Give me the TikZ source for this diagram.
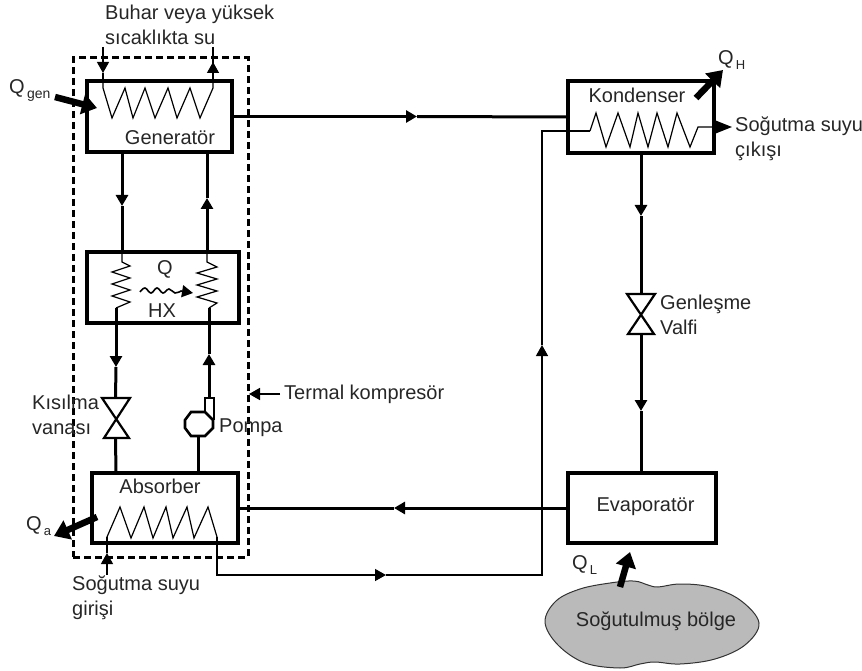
\documentclass[tikz,border=0pt]{standalone}
\usepackage{fontspec}
\setmainfont{Liberation Sans}
\usetikzlibrary{arrows.meta}

\newcommand{\qsub}[2]{Q{\fontsize{#2}{#2}\selectfont\raisebox{-5pt}{\,#1}}}

\tikzset{
  box/.style={draw, line width=3.2pt, inner sep=0, rectangle},
  lbl/.style={inner sep=0, text=black!85, font=\fontsize{20}{25}\selectfont},
  llbl/.style={lbl, anchor=west, align=left},
  pipe/.style={line width=3pt},
  thin pipe/.style={line width=1.3pt},
  coil/.style={line width=1.2pt, line join=miter},
  tip/.style={-{Triangle[length=11pt,width=12pt]}},
  heat/.style={line width=6.5pt, -{Triangle[length=15pt,width=20pt]}},
}

\begin{document}
\begin{tikzpicture}[x=1pt, y=-1pt]
      \useasboundingbox (0,0) rectangle (862,671);

      \node[draw, dash pattern=on 7pt off 4pt, line width=3pt, minimum width=175pt, minimum height=499pt, inner sep=0] (tcomp) at (160.5,307.5) {};

      % boxes
      \node[box, minimum width=145pt, minimum height=71pt] (gen) at (159.5,116.5) {};
      \node[box, minimum width=152pt, minimum height=71pt] (hx) at (163,287.5) {};
      \node[box, minimum width=146pt, minimum height=70pt] (abs) at (165,508) {};
      \node[box, minimum width=146pt, minimum height=72pt] (kond) at (641,117) {};
      \node[box, minimum width=148pt, minimum height=70pt] (evap) at (642,508) {};

      \node[lbl] (tgen) at (170,138) {Generatör};
      \node[lbl] (tabs) at (160,486) {Absorber};
      \node[lbl] (tkond) at (637,95) {Kondenser};
      \node[lbl] (tevap) at (645.5,507) {Evaporatör};

      % cooled region
      \draw[fill=black!27, line width=1pt, draw=black!80] plot[smooth cycle, tension=0.6] coordinates {(545,622) (556,601) (580,589) (610,583) (634,581) (648,585) (658,587) (680,584) (710,587) (740,600) (759,623) (745,645) (715,659) (680,664) (655,662) (640,664) (620,668) (585,663) (558,645)};
      \node[lbl] (tbolge) at (656,621) {Soğutulmuş bölge};

      % valves and pump
      \coordinate (kvt) at (115.5,398);
      \coordinate (kvb) at (115.5,438);
      \coordinate (gvt) at (641,294);
      \coordinate (gvb) at (641,334);
      \draw[line width=2.2pt, line join=miter] (102,398) -- (130,398) -- (104,438) -- (129,438) -- cycle;
      \draw[line width=2.2pt, line join=miter] (627,294) -- (655,294) -- (628,334) -- (654,334) -- cycle;
      \draw[line width=2.6pt] (191,412) -- (205,412) -- (213,420) -- (213,428) -- (205,436) -- (191,436) -- (185,428) -- (185,420) -- cycle;
      \draw[line width=2pt] (205,412) -- (205,397.5) -- (214,397.5) -- (214,420);

      % main lines, one tip on each
      \coordinate (g1) at (122,152);
      \coordinate (g2) at (122,206);
      \coordinate (g3) at (122,252);
      \coordinate (g4) at (207,252);
      \coordinate (g5) at (207,198);
      \coordinate (g6) at (207,152);
      \coordinate (h1) at (116,308);
      \coordinate (h2) at (116,367);
      \coordinate (h3) at (209,397);
      \coordinate (h4) at (209,354);
      \coordinate (h5) at (209,308);
      \coordinate (a1) at (116,473);
      \coordinate (a2) at (198,473);
      \coordinate (p1) at (198,436);
      \coordinate (m1) at (417,116.5);
      \coordinate (m2) at (641,216);
      \coordinate (m3) at (641,153);
      \coordinate (m4) at (641,411);
      \coordinate (m5) at (641,473);
      \coordinate (m6) at (394,508);
      \foreach \from/\mid/\to in {g1/g2/g3, g4/g5/g6, h1/h2/kvt, h3/h4/h5, m3/m2/gvt, gvb/m4/m5} {
        \draw[pipe, tip] (\from) -- (\mid);
        \draw[pipe] (\mid) -- (\to);
      }
      \draw[pipe, tip] (gen.east) -- (m1);
      \draw[pipe] (m1) -- (kond.west);
      \draw[pipe, tip] (evap.west) -- (m6);
      \draw[pipe] (m6) -- (abs.east);
      \draw[pipe] (kvb) -- (a1);
      \draw[pipe] (p1) -- (a2);

      % thin water line
      \coordinate (w1) at (217,537);
      \coordinate (w2) at (386,575);
      \coordinate (w3) at (542,345);
      \coordinate (w4) at (590,131);
      \draw[thin pipe, tip] (w1) |- (w2);
      \draw[thin pipe] (w2) -| (542,500);
      \draw[thin pipe, tip] (542,500) -- (w3);
      \draw[thin pipe] (w3) |- (w4);

      % coils
      \draw[coil] (103,81) -- (103,88) -- (112,118) -- (125,88) -- (133,118) -- (145,88) -- (155,118) -- (168,88) -- (177,118) -- (190,88) -- (200,118) -- (213,88) -- (213,81);
      \draw[coil] (107,537) -- (120,507) -- (131,538) -- (144,507) -- (153,538) -- (166,507) -- (173,538) -- (187,507) -- (194,538) -- (208,507) -- (217,537);
      \draw[coil] (w4) -- (596,113) -- (606,147) -- (618,113) -- (630,147) -- (638,113) -- (648,147) -- (657,113) -- (668,147) -- (677,113) -- (690,147) -- (698,127) -- (713,127);
      \draw[coil] (g3) -- (122,262) -- (130,266) -- (112,272) -- (130,278) -- (112,284) -- (130,290) -- (112,296) -- (130,302) -- (116,308);
      \draw[coil] (g4) -- (207,262) -- (217,267) -- (197,273) -- (217,279) -- (197,285) -- (217,291) -- (197,297) -- (217,303) -- (209,308);

      % heat in the HX box
      \coordinate (qhx) at (193,293);
      \draw[line width=1.6pt, tip] plot[smooth, tension=0.7] coordinates {(140,292) (145,288) (151,293) (157,288) (163,293) (169,289) (175,293) (181,291)} -- (qhx);
      \node[lbl] (tq) at (165,269) {Q};
      \node[lbl] (thx) at (162,311) {HX};

      % water in and out
      \coordinate (b1) at (103,47);
      \coordinate (b2) at (103,73);
      \coordinate (b3) at (213,47);
      \coordinate (b4) at (213,62);
      \coordinate (s1) at (107,575);
      \coordinate (s2) at (107,553);
      \draw[thin pipe, tip] (b1) -- (b2);
      \draw[thin pipe] (b2) -- (103,81);
      \draw[thin pipe] (b3) -- (213,81);
      \draw[thin pipe, tip] (213,81) -- (b4);
      \draw[thin pipe, tip] (s1) -- (s2);
      \draw[thin pipe] (s2) -- (w1 -| s1);
      \coordinate (k1) at (714,127);
      \coordinate (k2) at (732,127);
      \draw[thin pipe, -{Triangle[length=18pt,width=14pt]}] (k1) -- (k2);

      % heat flows
      \coordinate (qg1) at (55,97);
      \coordinate (qg2) at (97,108);
      \coordinate (qa1) at (97,517);
      \coordinate (qa2) at (54,536);
      \coordinate (qh1) at (696,98);
      \coordinate (qh2) at (723,70);
      \coordinate (ql1) at (620,587);
      \coordinate (ql2) at (630,552);
      \foreach \from/\to in {qg1/qg2, qa1/qa2, qh1/qh2, ql1/ql2} {
        \draw[heat] (\from) -- (\to);
      }
      \coordinate (tk1) at (280,394);
      \coordinate (tk2) at (249,394);
      \draw[line width=1.6pt, tip] (tk1) -- (tk2);

      % labels
      \node[llbl] (tbuhar) at (105,24.5) {Buhar veya yüksek\\sıcaklıkta su};
      \node[llbl] (tkisil) at (32,415) {Kısılma\\vanası};
      \node[llbl] (tpompa) at (219,428) {Pompa};
      \node[llbl] (tterm) at (284,394) {Termal kompresör};
      \node[llbl] (tsogg) at (72,598) {Soğutma suyu\\girişi};
      \node[llbl] (tsogc) at (735,139) {Soğutma suyu\\çıkışı};
      \node[llbl] (tgenl) at (660,315) {Genleşme\\Valfi};
      \node[llbl] (tqgen) at (9,90) {\qsub{gen}{14}};
      \node[llbl] (tqa) at (26,526) {\qsub{a}{13}};
      \node[llbl] (tqh) at (718,60) {\qsub{H}{13}};
      \node[llbl] (tql) at (572,565) {\qsub{L}{13}};
\end{tikzpicture}
\end{document}
